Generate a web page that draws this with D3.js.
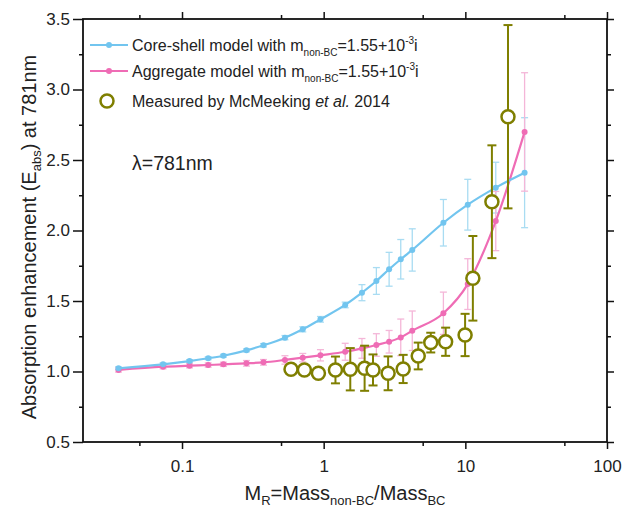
<!DOCTYPE html>
<html>
<head>
<meta charset="utf-8">
<script src="https://cdn.jsdelivr.net/npm/d3@7"></script>
<style>
  body { margin: 0; background: #fff; }
  svg { font-family: "Liberation Sans", Arial, sans-serif; }
</style>
</head>
<body>
<div id="chart"></div>
<script>
// mass ratio values of the two model curves
const modelX = [0.0356, 0.0735, 0.113, 0.153, 0.196, 0.285, 0.376, 0.533, 0.712, 0.949,
    1.419, 1.863, 2.355, 2.897, 3.5, 4.22, 7.0, 10.4, 16.4, 26.2];
const coreShell = [1.023, 1.051, 1.074, 1.094, 1.112, 1.150, 1.186, 1.240, 1.299, 1.370,
    1.472, 1.559, 1.642, 1.725, 1.796, 1.862, 2.055, 2.183, 2.304, 2.410];
const coreShellErr = [0.01, 0.01, 0.01, 0.01, 0.01, 0.01, 0.012, 0.015, 0.018, 0.02,
    0.02, 0.057, 0.095, 0.12, 0.14, 0.15, 0.165, 0.18, 0.18, 0.39];
const aggregate = [1.011, 1.034, 1.041, 1.046, 1.051, 1.058, 1.065, 1.082, 1.098, 1.115,
    1.140, 1.164, 1.188, 1.211, 1.242, 1.289, 1.413, 1.62, 2.067, 2.699];
const aggregateErr = [0.015, 0.015, 0.015, 0.015, 0.015, 0.02, 0.02, 0.03, 0.03, 0.04,
    0.06, 0.07, 0.08, 0.08, 0.13, 0.14, 0.15, 0.18, 0.21, 0.42];

// McMeeking et al. 2014
const measuredX = [0.588, 0.731, 0.918, 1.211, 1.541, 1.945, 2.23, 2.85, 3.64, 4.65,
    5.7, 7.26, 9.96, 11.3, 15.4, 20.0];
const measuredY = [1.016, 1.011, 0.987, 1.011, 1.016, 1.023, 1.011, 0.987, 1.018, 1.110,
    1.205, 1.211, 1.259, 1.661, 2.204, 2.807];
const measuredErr = [0.03, 0.03, 0.03, 0.095, 0.15, 0.16, 0.11, 0.12, 0.10, 0.095,
    0.07, 0.10, 0.15, 0.30, 0.40, 0.65];

const xMajor = [0.1, 1, 10, 100];
const xMinor = [0.05, 0.5, 5, 50];
const yMajor = [0.5, 1.0, 1.5, 2.0, 2.5, 3.0, 3.5];
const yMinor = [0.75, 1.25, 1.75, 2.25, 2.75, 3.25];

const width = 623, height = 512;
const plotL = 83, plotR = 607, plotT = 19, plotB = 442;

const blue = "#72c5ef", blueErr = "#a9dcf2";
const pink = "#ef6cb5", pinkErr = "#f4b6d8";
const olive = "#7f7f00";

const svg = d3.select("#chart").append("svg")
    .attr("width", width)
    .attr("height", height);

const x = d3.scaleLog().domain([0.02, 100]).range([plotL, plotR]);
const y = d3.scaleLinear().domain([0.5, 3.5]).range([plotB, plotT]);

// axes
const fmtX = d => d < 1 ? d3.format(".1f")(d) : d3.format("d")(d);

svg.append("g")
    .attr("transform", `translate(0,${plotB})`)
    .call(d3.axisBottom(x).tickValues(xMajor).tickSize(7).tickFormat(fmtX))
    .call(g => g.selectAll("text").attr("dy", "1.2em"));
svg.append("g")
    .attr("transform", `translate(0,${plotB})`)
    .call(d3.axisBottom(x).tickValues(xMinor).tickSize(4).tickFormat(""));
svg.append("g")
    .attr("transform", `translate(0,${plotT})`)
    .call(d3.axisBottom(x).tickValues(xMajor).tickSize(-7).tickFormat(""));
svg.append("g")
    .attr("transform", `translate(0,${plotT})`)
    .call(d3.axisBottom(x).tickValues(xMinor).tickSize(-4).tickFormat(""));

svg.append("g")
    .attr("transform", `translate(${plotL},0)`)
    .call(d3.axisLeft(y).tickValues(yMajor).tickSize(10).tickPadding(3).tickFormat(d3.format(".1f")));
svg.append("g")
    .attr("transform", `translate(${plotL},0)`)
    .call(d3.axisLeft(y).tickValues(yMinor).tickSize(4).tickFormat(""));
svg.append("g")
    .attr("transform", `translate(${plotR},0)`)
    .call(d3.axisLeft(y).tickValues(yMajor).tickSize(-7).tickFormat(""));
svg.append("g")
    .attr("transform", `translate(${plotR},0)`)
    .call(d3.axisLeft(y).tickValues(yMinor).tickSize(-4).tickFormat(""));

svg.selectAll(".domain").remove();
svg.selectAll(".tick line").attr("stroke", "#111").attr("stroke-width", 1.5);
svg.selectAll(".tick text").attr("font-size", 17).attr("fill", "#222")
    .attr("font-family", "Liberation Sans, Arial, sans-serif");

svg.append("rect")
    .attr("x", plotL).attr("y", plotT)
    .attr("width", plotR - plotL).attr("height", plotB - plotT)
    .attr("fill", "none").attr("stroke", "#111").attr("stroke-width", 1.8);

// error bars
function errorBars(xs, ys, es, color, cap, sw) {
    const g = svg.append("g").attr("stroke", color).attr("stroke-width", sw).attr("fill", "none");
    xs.forEach((xv, i) => {
        const cx = x(xv), y1 = y(ys[i] + es[i]), y2 = y(ys[i] - es[i]);
        g.append("line").attr("x1", cx).attr("x2", cx).attr("y1", y1).attr("y2", y2);
        g.append("line").attr("x1", cx - cap).attr("x2", cx + cap).attr("y1", y1).attr("y2", y1);
        g.append("line").attr("x1", cx - cap).attr("x2", cx + cap).attr("y1", y2).attr("y2", y2);
    });
}

errorBars(modelX, coreShell, coreShellErr, blueErr, 3.5, 1.3);
errorBars(modelX, aggregate, aggregateErr, pinkErr, 3.5, 1.3);

const line = d3.line().curve(d3.curveMonotoneX);

function modelCurve(ys, color) {
    const pts = modelX.map((xv, i) => [x(xv), y(ys[i])]);
    svg.append("path")
        .attr("d", line(pts))
        .attr("fill", "none")
        .attr("stroke", color)
        .attr("stroke-width", 2.2);
    svg.append("g").selectAll("circle")
        .data(pts)
        .enter()
        .append("circle")
        .attr("cx", d => d[0])
        .attr("cy", d => d[1])
        .attr("r", 3)
        .attr("fill", color);
}

modelCurve(aggregate, pink);
modelCurve(coreShell, blue);

errorBars(measuredX, measuredY, measuredErr, olive, 4.5, 2);

svg.append("g").selectAll("circle")
    .data(measuredX)
    .enter()
    .append("circle")
    .attr("cx", d => x(d))
    .attr("cy", (d, i) => y(measuredY[i]))
    .attr("r", 6.5)
    .attr("fill", "#fff")
    .attr("stroke", olive)
    .attr("stroke-width", 2.5);

// legend
const legend = svg.append("g").attr("font-size", 16).attr("fill", "#222");

function legendLine(yPos, color, label) {
    legend.append("line")
        .attr("x1", 90).attr("x2", 128).attr("y1", yPos).attr("y2", yPos)
        .attr("stroke", color).attr("stroke-width", 2.2);
    legend.append("circle").attr("cx", 109).attr("cy", yPos).attr("r", 3).attr("fill", color);
    const t = legend.append("text").attr("x", 132).attr("y", yPos + 6);
    t.append("tspan").text(label + " with m");
    t.append("tspan").attr("font-size", 10).attr("dy", 5).text("non-BC");
    t.append("tspan").attr("dy", -5).text("=1.55+10");
    t.append("tspan").attr("font-size", 10).attr("dy", -7).text("-3");
    t.append("tspan").attr("dy", 7).text("i");
}

legendLine(45, blue, "Core-shell model");
legendLine(71, pink, "Aggregate model");

legend.append("circle")
    .attr("cx", 107).attr("cy", 101).attr("r", 6.5)
    .attr("fill", "#fff").attr("stroke", olive).attr("stroke-width", 2.5);
const mt = legend.append("text").attr("x", 132).attr("y", 107);
mt.append("tspan").text("Measured by McMeeking ");
mt.append("tspan").attr("font-style", "italic").text("et al.");
mt.append("tspan").text(" 2014");

svg.append("text")
    .attr("x", 132).attr("y", 170)
    .attr("font-size", 19.5).attr("fill", "#222")
    .text("λ=781nm");

// axis titles
const yt = svg.append("text")
    .attr("transform", `translate(36,237) rotate(-90)`)
    .attr("text-anchor", "middle")
    .attr("font-size", 20).attr("fill", "#222");
yt.append("tspan").text("Absorption enhancement (E");
yt.append("tspan").attr("font-size", 13).attr("dy", 5).text("abs");
yt.append("tspan").attr("dy", -5).text(") at 781nm");

const xt = svg.append("text")
    .attr("x", (plotL + plotR) / 2).attr("y", 500)
    .attr("text-anchor", "middle")
    .attr("font-size", 20).attr("fill", "#222");
xt.append("tspan").text("M");
xt.append("tspan").attr("font-size", 13).attr("dy", 5).text("R");
xt.append("tspan").attr("dy", -5).text("=Mass");
xt.append("tspan").attr("font-size", 13).attr("dy", 5).text("non-BC");
xt.append("tspan").attr("dy", -5).text("/Mass");
xt.append("tspan").attr("font-size", 13).attr("dy", 5).text("BC");
</script>
</body>
</html>
